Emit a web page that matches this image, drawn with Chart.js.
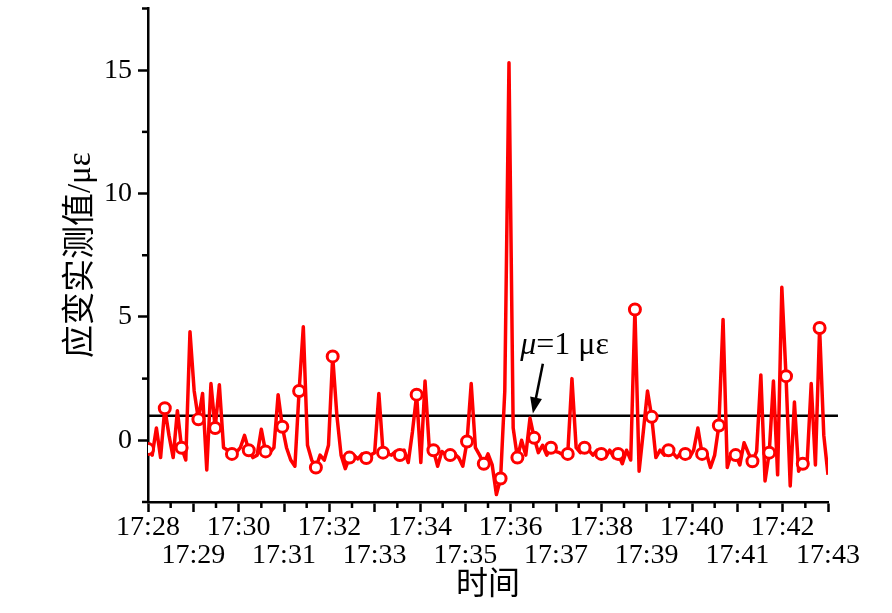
<!DOCTYPE html>
<html>
<head>
    <meta charset="utf-8" />
    <title>应变实测值</title>
    <style>
        body { margin: 0; background: #fff; }
        #wrap { width: 892px; height: 613px; }
    </style>
</head>
<body>
<div id="wrap">
    <canvas id="canvasStrain" width="892" height="613"></canvas>
</div>
<script src="https://cdn.jsdelivr.net/npm/chart.js@4.4.1/dist/chart.umd.min.js"></script>
<script type="text/javascript">

    // time axis, minutes past 17:00
    var startMinute = 28;
    var endMinute = 43;
    var minuteTicks = [28, 29, 30, 31, 32, 33, 34, 35, 36, 37, 38, 39, 40, 41, 42, 43];
    var strainTicks = [0, 5, 10, 15];
    var strainMinorTicks = [-2.5, 2.5, 7.5, 12.5, 17.5];
    var threshold = 1;
    var markerEvery = 4;

    // strain readings (με), evenly sampled from 17:28 to 17:43
    var strain = [
        -0.35, -0.6, 0.5, -0.7,
        1.3, 0.2, -0.7, 1.2,
        -0.3, -0.8, 4.4, 2.0,
        0.85, 1.9, -1.2, 2.3,
        0.5, 2.25, -0.3, -0.4,
        -0.55, -0.5, -0.3, 0.2,
        -0.4, -0.7, -0.6, 0.45,
        -0.45, -0.5, -0.3, 1.85,
        0.55, -0.3, -0.8, -1.05,
        2.0, 4.6, -0.2, -0.8,
        -1.1, -0.6, -0.8, -0.2,
        3.4, 1.0, -0.6, -1.15,
        -0.7, -0.6, -0.75, -0.55,
        -0.72, -0.6, -0.5, 1.9,
        -0.5, -0.55, -0.6, -0.45,
        -0.6, -0.4, -0.9, 0.35,
        1.85, -0.9, 2.4, -0.3,
        -0.4, -1.05, -0.45, -0.6,
        -0.6, -0.55, -0.7, -1.05,
        -0.05, 2.3, -0.3, -0.6,
        -0.95, -0.55, -1.0, -2.2,
        -1.55, 2.0, 15.3, 0.5,
        -0.7, 0.0, -0.6, 0.9,
        0.1, -0.5, -0.2, -0.6,
        -0.3, -0.45, -0.5, -0.6,
        -0.55, 2.5, -0.3, -0.5,
        -0.3, -0.4, -0.6, -0.4,
        -0.55, -0.7, -0.4, -0.7,
        -0.55, -0.95, -0.4, -0.8,
        5.3, -1.25, 0.35, 2.0,
        0.95, -0.7, -0.4, -0.6,
        -0.4, -0.5, -0.7, -0.5,
        -0.55, -0.7, -0.4, 0.5,
        -0.55, -0.5, -1.1, -0.6,
        0.6, 4.9, -1.1, -0.5,
        -0.6, -1.0, -0.1, -0.5,
        -0.85, -0.45, 2.65, -1.65,
        -0.5, 2.4, -1.4, 6.2,
        2.6, -1.85, 1.55, -1.25,
        -0.95, -1.0, 2.3, -1.0,
        4.55, 0.2, -1.4
    ];

    var serif = "'Liberation Serif', 'Times New Roman', 'Noto Sans CJK SC', serif";
    var step = (endMinute - startMinute) / (strain.length - 1);
    var strainPoints = strain.map(function (v, i) {
        return { x: startMinute + i * step, y: v };
    });

    // minor ticks and the μ=1 με note
    var extras = {
        id: 'extras',
        afterDraw: function (chart) {
            var ctx = chart.ctx;
            var xs = chart.scales.x;
            var ys = chart.scales.y;
            ctx.save();
            ctx.strokeStyle = '#000';
            ctx.lineWidth = 2.5;
            strainMinorTicks.forEach(function (v) {
                var py = ys.getPixelForValue(v);
                ctx.beginPath();
                ctx.moveTo(xs.left - 6, py);
                ctx.lineTo(xs.left, py);
                ctx.stroke();
            });
            minuteTicks.slice(0, -1).forEach(function (m) {
                var px = xs.getPixelForValue(m + 0.5);
                ctx.beginPath();
                ctx.moveTo(px, ys.bottom);
                ctx.lineTo(px, ys.bottom + 6);
                ctx.stroke();
            });

            // label
            var tx = xs.getPixelForValue(36.21);
            var ty = ys.getPixelForValue(3.5);
            ctx.fillStyle = '#000';
            ctx.textBaseline = 'alphabetic';
            ctx.textAlign = 'left';
            ctx.font = 'italic 32px ' + serif;
            ctx.fillText('μ', tx, ty);
            var w = ctx.measureText('μ').width;
            ctx.font = '32px ' + serif;
            ctx.fillText('=1 με', tx + w, ty);

            // arrow
            var x0 = xs.getPixelForValue(36.71), y0 = ys.getPixelForValue(3.1);
            var x1 = xs.getPixelForValue(36.49), y1 = ys.getPixelForValue(1.09);
            var ang = Math.atan2(y1 - y0, x1 - x0);
            var head = 16;
            ctx.lineWidth = 2.5;
            ctx.beginPath();
            ctx.moveTo(x0, y0);
            ctx.lineTo(x1 - Math.cos(ang) * head * 0.8, y1 - Math.sin(ang) * head * 0.8);
            ctx.stroke();
            ctx.beginPath();
            ctx.moveTo(x1, y1);
            ctx.lineTo(x1 - head * Math.cos(ang) + 6 * Math.sin(ang), y1 - head * Math.sin(ang) - 6 * Math.cos(ang));
            ctx.lineTo(x1 - head * Math.cos(ang) - 6 * Math.sin(ang), y1 - head * Math.sin(ang) + 6 * Math.cos(ang));
            ctx.closePath();
            ctx.fill();
            ctx.restore();
        }
    };

    var config = {
        type: 'line',
        data: {
            datasets: [{
                label: 'strain',
                data: strainPoints,
                borderColor: '#ff0000',
                borderWidth: 3.5,
                borderJoinStyle: 'round',
                tension: 0,
                pointRadius: function (c) { return c.dataIndex % markerEvery === 0 ? 5.5 : 0; },
                pointBackgroundColor: '#ffffff',
                pointBorderColor: '#ff0000',
                pointBorderWidth: 3,
                order: 1
            }, {
                label: 'threshold',
                data: [{ x: startMinute, y: threshold }, { x: endMinute + 0.22, y: threshold }],
                borderColor: '#000000',
                borderWidth: 2.5,
                pointRadius: 0,
                clip: false,
                order: 2
            }]
        },
        options: {
            responsive: false,
            animation: false,
            layout: { padding: { left: 58, right: 64, top: 5, bottom: 0 } },
            plugins: {
                legend: { display: false },
                tooltip: { enabled: false }
            },
            scales: {
                x: {
                    type: 'linear',
                    min: startMinute,
                    max: endMinute,
                    afterBuildTicks: function (scale) {
                        scale.ticks = minuteTicks.map(function (m) { return { value: m }; });
                    },
                    afterFit: function (scale) { scale.height = 111; },
                    grid: { drawOnChartArea: false, drawTicks: true, tickLength: 10, tickColor: '#000', tickWidth: 2.5 },
                    border: { display: true, color: '#000', width: 2.5 },
                    ticks: {
                        autoSkip: false,
                        maxRotation: 0,
                        padding: 2,
                        color: '#000',
                        font: { family: serif, size: 28, lineHeight: 1.0 },
                        callback: function (v) {
                            var s = '17:' + v;
                            return v % 2 === 0 ? s : ['', s];
                        }
                    },
                    title: {
                        display: true,
                        text: '时间',
                        color: '#000',
                        font: { family: serif, size: 32 },
                        padding: { top: 0, bottom: 8 }
                    }
                },
                y: {
                    min: -2.5,
                    max: 17.5,
                    afterBuildTicks: function (scale) {
                        scale.ticks = strainTicks.map(function (v) { return { value: v }; });
                    },
                    afterFit: function (scale) {
                        scale.width = 148 - 58;
                        scale.paddingTop = 0;
                        scale.paddingBottom = 0;
                    },
                    grid: { drawOnChartArea: false, drawTicks: true, tickLength: 10, tickColor: '#000', tickWidth: 2.5 },
                    border: { display: true, color: '#000', width: 2.5 },
                    ticks: {
                        padding: 6,
                        color: '#000',
                        font: { family: serif, size: 28 }
                    },
                    title: {
                        display: true,
                        text: '应变实测值/με',
                        color: '#000',
                        font: { family: serif, size: 33 },
                        padding: { top: 4, bottom: 0 }
                    }
                }
            }
        },
        plugins: [extras]
    };

    var chartStrain = new Chart(document.getElementById('canvasStrain').getContext('2d'), config);

</script>
</body>
</html>
